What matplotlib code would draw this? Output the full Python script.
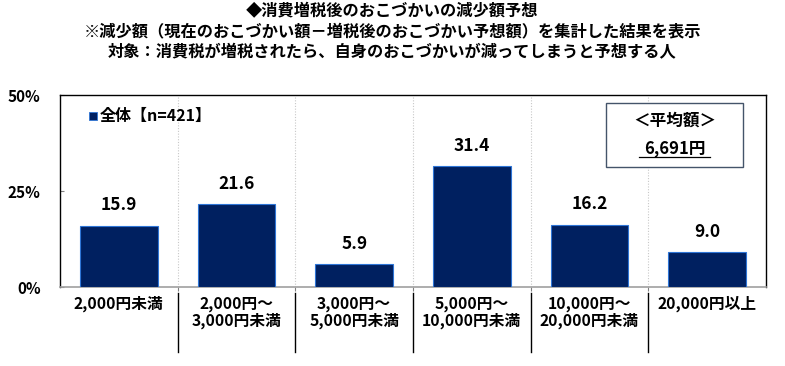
import matplotlib
matplotlib.use("Agg")
import matplotlib.pyplot as plt
from matplotlib.patches import Rectangle
import matplotlib.transforms as mtransforms

plt.rcParams['font.family'] = ['Noto Sans CJK JP', 'DejaVu Sans']

categories = ["2,000円未満", "2,000円～\n3,000円未満", "3,000円～\n5,000円未満",
              "5,000円～\n10,000円未満", "10,000円～\n20,000円未満", "20,000円以上"]
values = [15.9, 21.6, 5.9, 31.4, 16.2, 9.0]
yticks = [0, 25, 50]
ytick_labels = ["0%", "25%", "50%"]
title_lines = ["◆消費増税後のおこづかいの減少額予想",
               "※減少額（現在のおこづかい額－増税後のおこづかい予想額）を集計した結果を表示",
               "対象：消費税が増税されたら、自身のおこづかいが減ってしまうと予想する人"]
legend_label = "全体【n=421】"
avg_title = "＜平均額＞"
avg_value = "6,691円"

fig = plt.figure(figsize=(7.85, 3.66), dpi=100)
ax = fig.add_axes([60/785, 1-287/366, 706/785, 192/366])

n = len(categories)
x = list(range(n))
bars = ax.bar(x, values, width=0.66, color="#002060", edgecolor="#2e75d6", linewidth=0.8, zorder=3)
for xi, v in zip(x, values):
    ax.text(xi, v + 3.0, f"{v:.1f}", ha="center", va="bottom", fontsize=12.5,
            fontweight="bold", color="black")

ax.set_xlim(-0.5, n - 0.5)
ax.set_ylim(0, 50)
ax.set_yticks(yticks)
ax.set_yticklabels(ytick_labels, fontsize=11, fontweight="bold")
ax.tick_params(axis="y", direction="in", length=3, pad=14, color="#808080")
ax.set_xticks([i + 0.5 for i in range(n - 1)])
ax.set_xticklabels([])
ax.tick_params(axis="x", direction="out", length=3, color="#808080")

for i in range(n - 1):
    ax.axvline(i + 0.5, color="#c8c8c8", linestyle=(0, (1, 1.5)), linewidth=0.8, zorder=1)

for s in ["left", "top", "right"]:
    ax.spines[s].set_color("black")
    ax.spines[s].set_linewidth(1.0)
ax.spines["bottom"].set_color("#a0a0a0")
ax.spines["bottom"].set_linewidth(1.2)

trans = mtransforms.blended_transform_factory(ax.transData, ax.transAxes)
for i, lab in enumerate(categories):
    ax.text(i, -0.045, lab, transform=trans, ha="center", va="top", fontsize=11.3,
            fontweight="bold", linespacing=1.1)
for i in range(n - 1):
    ax.plot([i + 0.5, i + 0.5], [-0.03, -0.34], transform=trans, color="black",
            linewidth=1.0, clip_on=False)

# title
for k, t in enumerate(title_lines):
    fig.text(0.5, 1 - (11 + 20.5 * k) / 366, t, ha="center", va="center",
             fontsize=11.7, fontweight="bold")

# legend
ax.plot([-0.22], [44.5], marker="s", markersize=6, color="#002060",
        markeredgecolor="#2e75d6", markeredgewidth=0.6, linestyle="none")
ax.text(-0.16, 44.5, legend_label, ha="left", va="center", fontsize=11.5, fontweight="bold")

# average box
bx0 = (606 - 60) / 706 * n - 0.5
bx1 = (743 - 60) / 706 * n - 0.5
by0 = (287 - 167) / 192 * 50
by1 = (287 - 103) / 192 * 50
ax.add_patch(Rectangle((bx0, by0), bx1 - bx0, by1 - by0, facecolor="white",
                       edgecolor="#44546a", linewidth=1.0, zorder=4))
cx = (bx0 + bx1) / 2
ax.text(cx, by1 - 4.6, avg_title, ha="center", va="center", fontsize=12,
        fontweight="bold", zorder=5)
ax.text(cx, by0 + 5.0, avg_value, ha="center", va="center", fontsize=12,
        fontweight="bold", zorder=5)
ax.plot([cx - 0.3, cx + 0.3], [by0 + 2.5, by0 + 2.5], color="black", linewidth=0.9, zorder=5)

fig.savefig("out.png", dpi=100)
